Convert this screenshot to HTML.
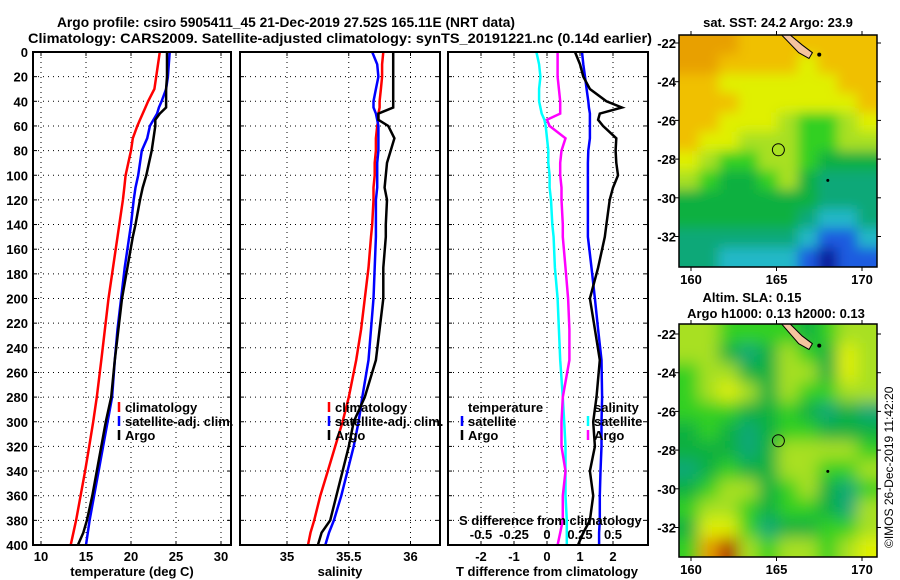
<!DOCTYPE html>
<html><head><meta charset="utf-8"><style>
html,body{margin:0;padding:0;background:#fff;}
svg{display:block;font-family:"Liberation Sans",sans-serif;}
.t{font-size:13px;font-weight:bold;fill:#000;}
.g{stroke:#000;stroke-width:1;stroke-dasharray:1,4;}
</style></head><body>
<svg id="chart" width="900" height="580" viewBox="0 0 900 580">
<text x="57" y="27" textLength="458" lengthAdjust="spacingAndGlyphs" style="font-size:14px;font-weight:bold">Argo profile: csiro 5905411_45 21-Dec-2019 27.52S 165.11E (NRT data)</text>
<text x="28" y="43" textLength="624" lengthAdjust="spacingAndGlyphs" style="font-size:14px;font-weight:bold">Climatology: CARS2009. Satellite-adjusted climatology: synTS_20191221.nc (0.14d earlier)</text>
<g id="plots"></g>
<g id="maps"></g>
</svg>
<script>
const depths=[0,10,20,30,40,45,50,55,60,70,80,90,100,110,120,140,150,175,200,225,250,280,300,320,340,360,380,390,400];
const tempClim=[23.2,23.0,22.8,22.6,21.9,21.6,21.3,21.0,20.7,20.2,20.0,19.7,19.4,19.25,19.1,18.7,18.5,18.0,17.5,17.1,16.7,16.2,15.8,15.35,14.9,14.4,13.9,13.6,13.3];
const tempSat=[24.3,24.2,24.1,23.9,23.4,23.1,22.9,22.5,22.1,21.8,21.2,21.0,20.8,20.5,20.3,20.0,19.8,19.3,18.9,18.5,18.2,17.9,17.4,16.9,16.4,15.9,15.4,15.2,15.0];
const tempArgo=[24.0,24.0,24.0,23.9,23.9,23.9,23.2,22.7,22.7,22.5,22.3,22.0,21.7,21.3,21.0,20.5,20.2,19.6,19.0,18.6,18.2,17.8,17.2,16.7,16.2,15.7,15.1,14.7,14.1];
const salClim=[35.78,35.77,35.77,35.76,35.75,35.75,35.74,35.74,35.73,35.72,35.72,35.71,35.71,35.70,35.70,35.69,35.68,35.66,35.63,35.60,35.56,35.50,35.45,35.39,35.33,35.27,35.22,35.19,35.17];
const salSat=[35.69,35.73,35.74,35.72,35.70,35.70,35.72,35.73,35.74,35.74,35.74,35.73,35.73,35.73,35.72,35.72,35.72,35.71,35.70,35.68,35.66,35.61,35.58,35.54,35.49,35.44,35.38,35.34,35.31];
const salArgo=[35.86,35.86,35.86,35.86,35.86,35.86,35.74,35.74,35.82,35.87,35.84,35.81,35.80,35.79,35.81,35.80,35.80,35.78,35.78,35.75,35.72,35.63,35.54,35.50,35.45,35.40,35.35,35.28,35.25];
const sDiffSat=[-0.08,-0.06,-0.05,-0.06,-0.06,-0.05,-0.04,-0.02,-0.01,0.0,0.01,0.01,0.02,0.02,0.03,0.04,0.05,0.06,0.08,0.09,0.10,0.12,0.13,0.14,0.14,0.14,0.15,0.15,0.15];
const sDiffArgo=[0.08,0.08,0.08,0.09,0.10,0.10,0.10,0.0,0.02,0.14,0.11,0.10,0.10,0.11,0.11,0.12,0.12,0.14,0.16,0.17,0.17,0.12,0.11,0.11,0.14,0.12,0.12,0.10,0.08];
const tDiffSat=[1.06,1.1,1.15,1.2,1.25,1.27,1.3,1.3,1.3,1.3,1.25,1.24,1.24,1.24,1.24,1.24,1.24,1.35,1.45,1.55,1.65,1.67,1.65,1.65,1.62,1.6,1.6,1.58,1.58];
const tDiffArgo=[0.85,1.0,1.1,1.3,1.8,2.27,1.6,1.55,1.7,2.1,2.08,2.1,2.15,2.0,1.9,1.8,1.75,1.55,1.3,1.45,1.6,1.5,1.4,1.45,1.3,1.4,1.3,1.1,0.94];
const depthTicks=[0,20,40,60,80,100,120,140,160,180,200,220,240,260,280,300,320,340,360,380,400];
const tempTicks=[10,15,20,25,30];
const salTicks=[35,35.5,36];
const salTickLabels=["35","35.5","36"];
const tdTicks=[-2,-1,0,1,2];
const sdTicks=[-0.5,-0.25,0,0.25,0.5];
const sdTickLabels=["-0.5","-0.25","0","0.25","0.5"];
const sstGrid=[
[9,9,9,8,8,8,8,8,8,8],[9,9,8,8,8,8,7,8,8,8],[8,8,7,7,7,7,7,7,8,8],[8,8,8,7,7,7,7,7,7,8],
[8,8,7,7,7,6,5,5,6,7],[8,7,7,6,6,6,5,5,6,6],[7,6,5,5,6,6,5,4,4,4],[6,5,4,4,5,6,4,3,3,3],
[4,4,4,4,4,4,4,3,3,3],[4,4,4,4,4,4,3,2,2,3],[3,3,3,3,3,3,2,1,1,2],[3,3,2,2,2,2,1,0,1,1]];
const slaGrid=[
[6,6,5,5,5,5,4,5,6,6],[6,6,4,3,4,6,5,4,7,6],[5,6,6,4,4,6,6,4,7,6],[5,6,7,6,4,6,5,5,6,6],
[5,5,5,4,4,5,4,3,4,3],[4,5,4,3,4,5,5,4,4,4],[4,4,4,3,4,6,6,6,6,5],[3,4,5,4,4,6,6,5,5,6],
[4,5,6,6,4,5,6,4,3,5],[5,6,6,5,4,5,5,4,3,6],[4,7,7,5,3,4,4,5,5,6],[5,9,10,6,5,6,6,5,6,7]];
const palette=["#0a1a9a","#1a5ce0","#20b8c8","#10a878","#10b040","#30d020","#a8e020","#e0f000","#f0c000","#e8a000","#b02000"];

const NS="http://www.w3.org/2000/svg";
function mk(tag,attrs,parent,text){const e=document.createElementNS(NS,tag);for(const k in attrs)e.setAttribute(k,attrs[k]);if(text!==undefined)e.textContent=text;parent.appendChild(e);return e;}
const plots=document.getElementById('plots');
const top0=52,bot=545;
const yD=d=>top0+(d/400)*(bot-top0);
const xT=v=>41+(v-10)*9;
const xS=v=>287+(v-35)*123.5;
const xTD=v=>547+v*33;
const xSD=v=>547+v*132;
const panels=[{l:33,r:231,name:'temperature-panel'},{l:240,r:440,name:'salinity-panel'},{l:448,r:648,name:'difference-panel'}];
const pg=[];
panels.forEach(p=>{
  const g=mk('g',{},plots);
  
  
  pg.push(g);
  depthTicks.forEach(d=>{if(d>0&&d<400){mk('line',{x1:p.l,x2:p.r,y1:yD(d),y2:yD(d),class:'g'},g);}});
});
function vgrid(g,xs){xs.forEach(x=>{mk('line',{x1:x,x2:x,y1:top0,y2:bot,class:'g'},g);mk('line',{x1:x,x2:x,y1:bot,y2:bot-4,stroke:'#000'},g);mk('line',{x1:x,x2:x,y1:top0,y2:top0+4,stroke:'#000'},g);});}
vgrid(pg[0],tempTicks.map(xT));
vgrid(pg[1],salTicks.map(xS));
vgrid(pg[2],tdTicks.map(xTD));
depthTicks.forEach(d=>{
  const t=mk('text',{x:28,y:yD(d)+5,'text-anchor':'end',class:'t'},plots,String(d));
  
  
  panels.forEach(p=>{mk('line',{x1:p.l,x2:p.l+4,y1:yD(d),y2:yD(d),stroke:'#000'},plots);mk('line',{x1:p.r,x2:p.r-4,y1:yD(d),y2:yD(d),stroke:'#000'},plots);});
});
tempTicks.forEach(v=>{const t=mk('text',{x:xT(v),y:561,'text-anchor':'middle',class:'t'},pg[0],String(v));});
salTicks.forEach((v,i)=>{const t=mk('text',{x:xS(v),y:561,'text-anchor':'middle',class:'t'},pg[1],salTickLabels[i]);});
tdTicks.forEach(v=>{const t=mk('text',{x:xTD(v),y:561,'text-anchor':'middle',class:'t'},pg[2],String(v));});
sdTicks.forEach((v,i)=>{const t=mk('text',{x:xSD(v),y:539,'text-anchor':'middle',class:'t'},pg[2],sdTickLabels[i]);});
function line(g,xf,vals,color,name){
  const d=vals.map((v,i)=>(i?'L':'M')+xf(v).toFixed(1)+','+yD(depths[i]).toFixed(1)).join('');
  const p=mk('path',{d:d,fill:'none',stroke:color,'stroke-width':2.5},g);
  
  
}
line(pg[0],xT,tempClim,'#ff0000','temp-climatology-line');
line(pg[0],xT,tempSat,'#0000ff','temp-satellite-line');
line(pg[0],xT,tempArgo,'#000','temp-argo-line');
line(pg[1],xS,salClim,'#ff0000','sal-climatology-line');
line(pg[1],xS,salSat,'#0000ff','sal-satellite-line');
line(pg[1],xS,salArgo,'#000','sal-argo-line');
line(pg[2],xSD,sDiffSat,'#00ffff','s-diff-satellite-line');
line(pg[2],xSD,sDiffArgo,'#ff00ff','s-diff-argo-line');
line(pg[2],xTD,tDiffSat,'#0000ff','t-diff-satellite-line');
line(pg[2],xTD,tDiffArgo,'#000','t-diff-argo-line');
panels.forEach(p=>{const r=mk('rect',{x:p.l,y:top0,width:p.r-p.l,height:bot-top0,fill:'none',stroke:'#000','stroke-width':2},plots);});
function legend(g,x,y,items,name){
  const lg=mk('g',{},g);
  items.forEach((it,i)=>{
    if(it[1])mk('line',{x1:x,x2:x,y1:y+i*14-10,y2:y+i*14,stroke:it[1],'stroke-width':2.5},lg);
    const t=mk('text',{x:x+6,y:y+i*14,class:'t'},lg,it[0]);
    
    
  });
}
legend(pg[0],119,412,[['climatology','#ff0000'],['satellite-adj. clim.','#0000ff'],['Argo','#000']],'temperature-legend');
legend(pg[1],329,412,[['climatology','#ff0000'],['satellite-adj. clim.','#0000ff'],['Argo','#000']],'salinity-legend');
legend(pg[2],462,412,[['temperature',null],['satellite','#0000ff'],['Argo','#000']],'t-diff-legend');
legend(pg[2],588,412,[['salinity',null],['satellite','#00ffff'],['Argo','#ff00ff']],'s-diff-legend');
[['temperature (deg C)',132,'temperature-axis-title'],['salinity',340,'salinity-axis-title'],['T difference from climatology',547,'t-diff-axis-title']].forEach(a=>{const t=mk('text',{x:a[1],y:576,'text-anchor':'middle',class:'t'},plots,a[0]);});
{const t=mk('text',{x:459,y:525,class:'t'},pg[2],'S difference from climatology');}

const maps=document.getElementById('maps');
const defs=mk('defs',{},maps);
const f1=mk('filter',{id:'b1',x:'-10%',y:'-10%',width:'120%',height:'120%'},defs);mk('feGaussianBlur',{stdDeviation:6},f1);
const f2=mk('filter',{id:'b2',x:'-10%',y:'-10%',width:'120%',height:'120%'},defs);mk('feGaussianBlur',{stdDeviation:8},f2);
function drawMap(grid,top,bottom,latTop,name,filt,bg){
  const L=679,R=877;
  const xL=lon=>691+(lon-160)*17.1;
  const yL=lat=>latTop+(-22-lat)*19.35;
  const cp=mk('clipPath',{id:'c'+name},defs);mk('rect',{x:L,y:top,width:R-L,height:bottom-top},cp);
  const g=mk('g',{'clip-path':'url(#c'+name+')'},maps);
  
  
  mk('rect',{x:L,y:top,width:R-L,height:bottom-top,fill:bg},g);
  const cg=mk('g',{filter:'url(#'+filt+')'},g);
  const cw=(R-L)/10,ch=(bottom-top)/12;
  grid.forEach((row,r)=>row.forEach((v,c)=>{
    const cell=mk('rect',{x:L+c*cw-(c==0?20:0),y:top+r*ch-(r==0?20:0),width:cw+1+(c==0||c==9?20:0),height:ch+1+(r==0||r==11?20:0),fill:palette[v]},cg);
    
    
  }));
  mk('path',{d:`M${xL(165.3)},${top} L${xL(165.8)},${top} L${xL(166.5)},${yL(-22.1)} L${xL(167.1)},${yL(-22.5)} L${xL(166.9)},${yL(-22.8)} L${xL(166.3)},${yL(-22.5)} Z`,fill:'#f5c49e',stroke:'#000','stroke-width':1},g);
  mk('circle',{cx:xL(167.5),cy:yL(-22.6),r:2,fill:'#000'},g);
  mk('circle',{cx:xL(168),cy:yL(-29.1),r:1.5,fill:'#000'},g);
  const c=mk('circle',{cx:xL(165.11),cy:yL(-27.52),r:6,fill:'none',stroke:'#000','stroke-width':1},maps);
  
  const fr=mk('rect',{x:L,y:top,width:R-L,height:bottom-top,fill:'none',stroke:'#000','stroke-width':1.5},maps);
  
  [-22,-24,-26,-28,-30,-32].forEach(lat=>{
    mk('line',{x1:L-4,x2:L,y1:yL(lat),y2:yL(lat),stroke:'#000'},maps);
    mk('line',{x1:R,x2:R+4,y1:yL(lat),y2:yL(lat),stroke:'#000'},maps);
    const t=mk('text',{x:L-3,y:yL(lat)+5,'text-anchor':'end',class:'t'},maps,String(lat));
    
  });
  [160,165,170].forEach(lon=>{
    mk('line',{x1:xL(lon),x2:xL(lon),y1:top-4,y2:top,stroke:'#000'},maps);
    mk('line',{x1:xL(lon),x2:xL(lon),y1:bottom,y2:bottom+4,stroke:'#000'},maps);
    const t=mk('text',{x:xL(lon),y:bottom+17,'text-anchor':'middle',class:'t'},maps,String(lon));
    
  });
}
drawMap(sstGrid,35,267,43,'sst-map','b1','#80c020');
drawMap(slaGrid,324,557,334,'sla-map','b2','#80d030');
[['sat. SST: 24.2 Argo: 23.9',778,27,'sst-map-title'],['Altim. SLA: 0.15',752,302,'sla-map-title'],['Argo h1000: 0.13 h2000: 0.13',776,318,'argo-height-title']].forEach(a=>{const t=mk('text',{x:a[1],y:a[2],'text-anchor':'middle',class:'t'},maps,a[0]);});
{const t=mk('text',{x:0,y:0,transform:'translate(893,548) rotate(-90)',style:'font-size:12px',fill:'#000'},maps,'©IMOS 26-Dec-2019 11:42:20');}
</script>
</body></html>
